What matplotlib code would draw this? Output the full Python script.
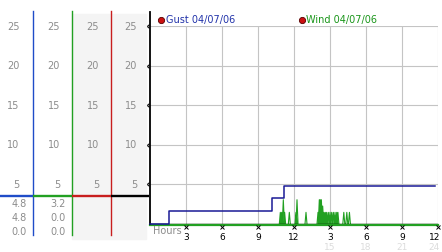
import matplotlib.pyplot as plt
import matplotlib.transforms as mtransforms
from matplotlib.patches import Rectangle

# ---------------- data ----------------
# gust (knots), step changes through the day
gust_hours = [0, 1.58, 10.2, 11.2, 23.75]
gust_kts = [0, 1.6, 3.2, 4.8, 4.8]

# wind (knots), only the non-calm readings; calm (0) everywhere else
wind_hours = [10.86, 10.97, 11.11, 11.22, 11.61, 12.17, 12.25, 13.0,
              14.0, 14.11, 14.19, 14.28, 14.39, 14.5, 14.61, 14.72,
              14.86, 15.0, 15.14, 15.28, 15.42, 15.56, 15.66,
              16.15, 16.4, 16.62]
wind_kts = [1.6, 1.6, 3.2, 1.6, 1.6, 1.6, 3.2, 1.6,
            1.6, 3.2, 3.2, 3.2, 2.4, 1.6, 1.6, 1.6,
            1.6, 1.6, 1.6, 1.6, 1.6, 1.6, 1.6,
            1.6, 1.6, 1.6]

hour_ticks = [3, 6, 9, 12, 15, 18, 21, 24]
hour_labels = ["3", "6", "9", "12", "3", "6", "9", "12"]
hour24_labels = ["15", "18", "21", "24"]
y_ticks = [5, 10, 15, 20, 25]

# side panel readouts (current / max / min)
gust_stats = ["4.8", "4.8", "0.0"]
wind_stats = ["3.2", "0.0", "0.0"]

legend_names = ["Gust 04/07/06", "Wind 04/07/06"]
#############################################################

W, H = 442, 253
BLUE = "#1f4cc8"
NAVY = "#1a1a96"
GREEN = "#22a022"
RED = "#c81e1e"
GRAY_TXT = "#8c8c8c"
FS = 7

fig = plt.figure(figsize=(W / 100, H / 100), dpi=100)

# main plot: 0h at x=150px, 24h at x=438px; 0 at y=224.5px, 25 at y=27px
y0, y25 = 224.5, 27
ax = fig.add_axes([150 / W, (H - y0) / H, 288 / W, (y0 - y25) / H])
ax.set_xlim(0, 24)
ax.set_ylim(0, 25)
for s in ax.spines.values():
    s.set_visible(False)
ax.set_xticks(hour_ticks)
ax.set_yticks(y_ticks)
ax.tick_params(length=0, labelbottom=False, labelleft=False)
ax.grid(color="#c4c4c4", lw=0.8)
ax.set_axisbelow(True)

# wind: thick calm baseline plus thin spikes, drawn just under the axis line
off = mtransforms.offset_copy(ax.transData, fig=fig, x=0, y=-1.5, units="dots")
ax.plot([0, 24], [0, 0], color=GREEN, lw=1.6, transform=off, clip_on=False, zorder=2)
wx, wy = [], []
for t, v in zip(wind_hours, wind_kts):
    wx += [t - 0.09, t, t + 0.09]
    wy += [0, v, 0]
ax.plot(wx, wy, color=GREEN, lw=0.8, transform=off, clip_on=False, zorder=2)

# axis lines
ax.axhline(0, color="black", lw=1.0, zorder=3)
ax.plot([0, 0], [0, (y0 - 13) / (y0 - y25)], transform=ax.transAxes,
        color="black", lw=1.3, clip_on=False, zorder=3)

# gust
ax.step(gust_hours, gust_kts, where="post", color=NAVY, lw=1.1, zorder=4, clip_on=False)

# small tick marks
xt = ax.get_xaxis_transform()
yt = ax.get_yaxis_transform()
ax.plot(hour_ticks, [-0.02] * len(hour_ticks), "x", color="black", ms=2.2, mew=0.7,
        transform=xt, clip_on=False)
ax.plot([-0.012] * len(y_ticks), y_ticks, "x", color="black", ms=2.2, mew=0.7,
        transform=yt, clip_on=False)

ax.text(0.25, -0.033, "Hours", transform=xt, color=GRAY_TXT, fontsize=FS,
        ha="left", va="center")

# hour labels; the last column sits against the right edge
nudge = mtransforms.offset_copy(xt, fig=fig, x=2, y=0, units="dots")
for i, (h, lab) in enumerate(zip(hour_ticks, hour_labels)):
    last = i == len(hour_ticks) - 1
    ax.text(h, -0.068, lab, transform=nudge if last else xt, fontsize=6.5,
            ha="right" if last else "center", va="center")
for i, (h, lab) in enumerate(zip(hour_ticks[4:], hour24_labels)):
    last = i == len(hour24_labels) - 1
    ax.text(h, -0.118, lab, transform=nudge if last else xt, fontsize=6.5,
            color="#dcdcdc", ha="right" if last else "center", va="center")

# legend
for xpx, name, col in [(161, legend_names[0], "#2233aa"), (302, legend_names[1], "#1a961a")]:
    fig.add_artist(plt.Line2D([xpx / W], [(H - 20.5) / H], marker="o", ms=4.5,
                              color="#cc1111", mec="#550000", mew=0.6,
                              transform=fig.transFigure))
    fig.text((xpx + 4.5) / W, (H - 20.5) / H, name, color=col, fontsize=FS,
             ha="left", va="center")

# ---------------- side panel with scales and readouts ----------------
side = fig.add_axes([0, (H - y0) / H, 149 / W, (y0 - y25) / H])
side.set_xlim(0, 149)
side.set_ylim(0, 25)
side.axis("off")

ppu = (y0 - y25) / 25  # pixels per knot
def yv(ypx):
    return (y0 - ypx) / ppu

side.add_patch(Rectangle((72, yv(240)), 74, yv(15) - yv(240), color="#f4f4f4",
                         zorder=0, clip_on=False))

col_lines = [(33, BLUE), (72, GREEN), (111, RED)]
for x, c in col_lines:
    side.plot([x, x], [yv(12), yv(236)], color=c, lw=1.0, clip_on=False)

sep = [(0, 33, BLUE), (33, 72, GREEN), (72, 111, RED), (111, 149, "black")]
for a, b, c in sep:
    side.plot([a, b], [yv(197), yv(197)], color=c, lw=1.7, clip_on=False,
              solid_capstyle="butt", zorder=3)

for xr in [19.5, 60, 99, 137]:
    for v in y_ticks:
        side.text(xr, v, str(v), color=GRAY_TXT, fontsize=FS, ha="right", va="center")

for xr, stats in [(27, gust_stats), (66, wind_stats)]:
    for ypx, s in zip([204, 218, 232], stats):
        side.text(xr, yv(ypx), s, color=GRAY_TXT, fontsize=FS, ha="right",
                  va="center", clip_on=False)

fig.savefig("out.png", dpi=100)
